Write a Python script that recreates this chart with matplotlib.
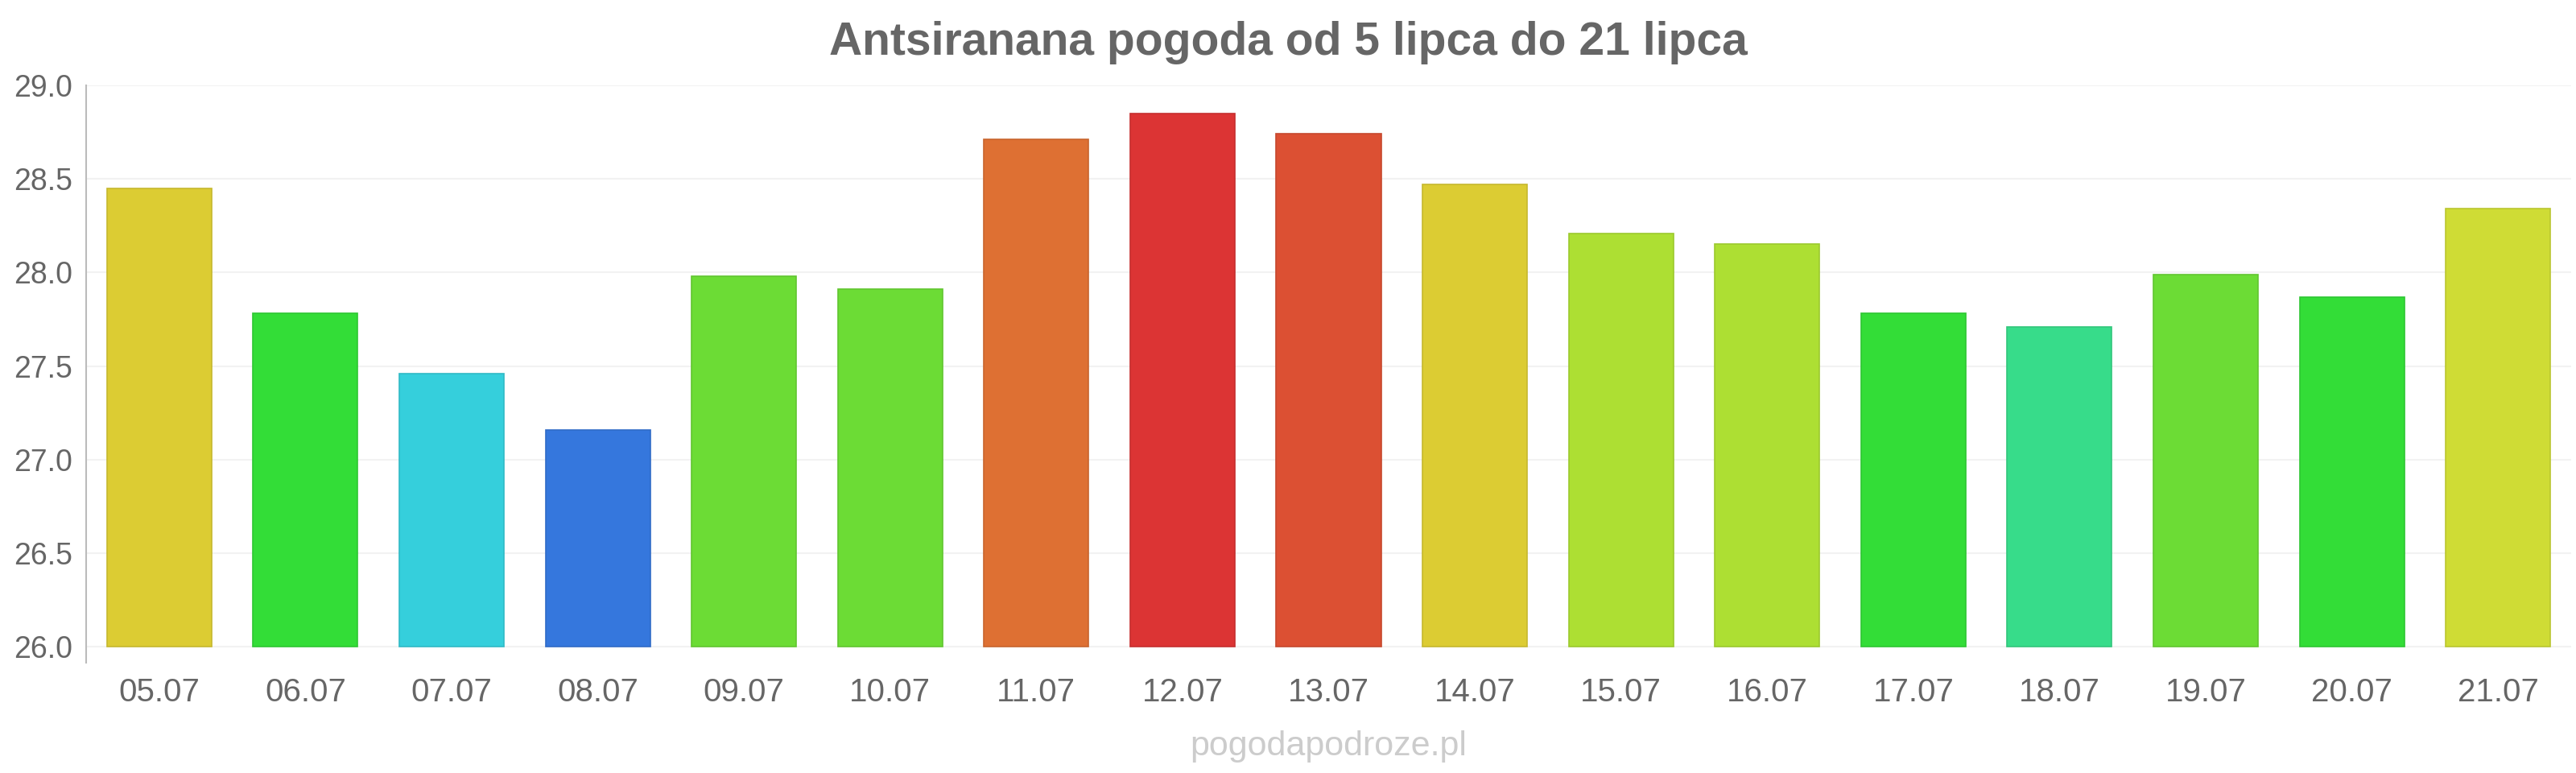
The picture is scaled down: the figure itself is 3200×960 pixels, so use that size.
import matplotlib
matplotlib.use("Agg")
import matplotlib.pyplot as plt
from matplotlib.colors import to_rgb

plt.rcParams['font.family'] = ['Liberation Sans', 'DejaVu Sans']

dates = ["05.07", "06.07", "07.07", "08.07", "09.07", "10.07", "11.07", "12.07", "13.07",
         "14.07", "15.07", "16.07", "17.07", "18.07", "19.07", "20.07", "21.07"]
temps = [28.45, 27.78, 27.46, 27.16, 27.98, 27.91, 28.71, 28.85, 28.74,
         28.47, 28.21, 28.15, 27.78, 27.71, 27.99, 27.87, 28.34]
colors = ["#dccc33", "#33dd37", "#35cfdc", "#3577dd", "#6cdc35", "#6cdc35", "#de7033", "#dc3434", "#dc5033",
          "#dccc33", "#addf33", "#addf33", "#33dd37", "#37dc8a", "#6cdc35", "#33dd37", "#cfdc35"]
yticks = [26.0, 26.5, 27.0, 27.5, 28.0, 28.5, 29.0]
title = "Antsiranana pogoda od 5 lipca do 21 lipca"
watermark = "pogodapodroze.pl"

fig = plt.figure(figsize=(32, 9.6), dpi=100)
ax = fig.add_axes([107/3200, 1 - 823/960, (3194 - 107)/3200, (823 - 106)/960])

base = 26.0
edge = [tuple(c * 0.9 for c in to_rgb(col)) for col in colors]
x = list(range(len(dates)))
ax.bar(x, [t - base for t in temps], bottom=base, width=0.716, color=colors,
       edgecolor=edge, linewidth=1.2, zorder=3)

ax.set_xlim(-0.5, len(dates) - 0.5)
ax.set_ylim(25.914, 29.0)
ax.set_yticks(yticks)
ax.set_yticklabels([f"{v:.1f}" for v in yticks])
ax.set_xticks(x)
ax.set_xticklabels(dates)
ax.grid(axis='y', color='#f2f2f2', linewidth=1.5, zorder=0)
for s in ['top', 'right', 'bottom']:
    ax.spines[s].set_visible(False)
ax.spines['left'].set_color('#bbbbbb')
ax.spines['left'].set_linewidth(1.5)
ax.tick_params(axis='y', length=0, labelsize=27, labelcolor='#666666', pad=12)
ax.tick_params(axis='x', length=0, labelsize=29, labelcolor='#666666', pad=13)

fig.text(1600/3200, 1 - 53/960, title, ha='center', va='center', fontsize=41,
         fontweight='bold', color='#666666')
fig.text(1650/3200, 1 - 927/960, watermark, ha='center', va='center', fontsize=31,
         color='#cccccc')

fig.savefig("out.png", dpi=100, facecolor='white')
